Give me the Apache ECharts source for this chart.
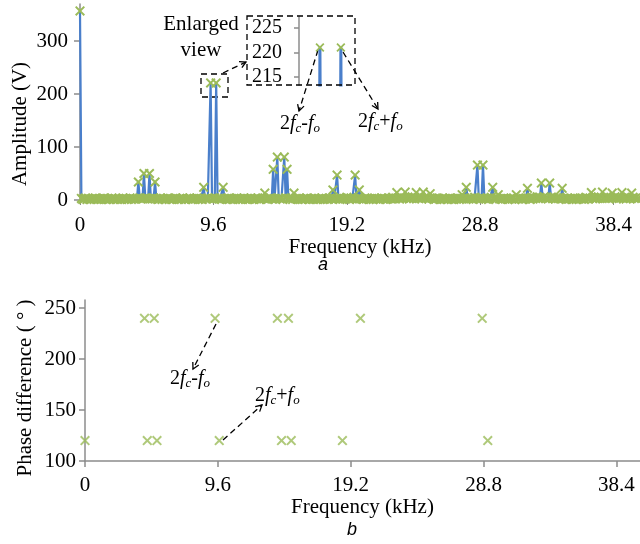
<!DOCTYPE html>
<html>
<head>
<meta charset="utf-8">
<script src="https://cdn.jsdelivr.net/npm/echarts@6/dist/echarts.min.js"></script>
<style>
  html, body { margin: 0; padding: 0; background: #fff; }
  #chart { width: 640px; height: 544px; }
</style>
</head>
<body>
<div id="chart"></div>
<script>
// 频谱数据：每 0.1 kHz 一个点，每行 1 kHz
var freqStep = 0.1
var amplitude = [
  357, 3, 1, 2, 4, 1, 3, 2, 1, 3,
  2, 4, 1, 2, 3, 1, 2, 4, 2, 1,
  3, 1, 2, 4, 1, 3, 2, 1, 3, 2,
  1, 4, 2, 3, 1, 2, 4, 1, 3, 2,
  2, 3, 34, 4, 3, 2, 50, 4, 3, 2,
  50, 3, 2, 4, 34, 3, 1, 2, 4, 1,
  3, 2, 1, 4, 2, 3, 1, 2, 3, 4,
  1, 2, 3, 1, 4, 2, 1, 3, 2, 4,
  2, 1, 3, 2, 4, 1, 3, 2, 1, 24,
  3, 2, 4, 3, 221, 3, 2, 4, 221, 3,
  2, 4, 1, 24, 3, 2, 1, 4, 2, 3,
  1, 3, 2, 4, 1, 2, 3, 1, 4, 2,
  3, 1, 2, 4, 2, 1, 3, 2, 4, 1,
  2, 3, 4, 13, 2, 1, 3, 4, 2, 58,
  3, 2, 81, 4, 2, 3, 1, 81, 4, 58,
  3, 2, 4, 1, 13, 3, 2, 1, 4, 2,
  1, 3, 2, 4, 2, 1, 3, 2, 1, 4,
  2, 1, 3, 2, 4, 1, 2, 3, 1, 2,
  4, 2, 19, 3, 2, 47, 3, 1, 4, 2,
  3, 2, 5, 3, 1, 4, 2, 3, 47, 2,
  4, 19, 3, 2, 1, 4, 2, 3, 1, 2,
  3, 1, 4, 2, 3, 2, 1, 4, 2, 3,
  1, 2, 4, 3, 2, 5, 3, 2, 14, 4,
  2, 6, 3, 4, 15, 3, 5, 2, 4, 6,
  3, 5, 14, 4, 3, 6, 2, 15, 4, 3,
  5, 2, 12, 4, 3, 1, 2, 4, 3, 1,
  2, 4, 1, 3, 2, 1, 4, 2, 3, 1,
  3, 2, 4, 1, 3, 10, 2, 4, 24, 3,
  2, 4, 3, 1, 5, 3, 66, 2, 4, 3,
  66, 3, 2, 4, 1, 3, 5, 24, 2, 3,
  4, 10, 2, 3, 1, 4, 2, 3, 1, 2,
  3, 2, 4, 1, 10, 3, 2, 4, 1, 3,
  2, 4, 22, 3, 1, 5, 2, 4, 3, 6,
  3, 5, 32, 4, 6, 3, 4, 2, 32, 5,
  3, 6, 2, 4, 3, 5, 2, 22, 4, 3,
  1, 4, 2, 3, 1, 2, 4, 1, 3, 2,
  4, 2, 3, 1, 5, 3, 2, 4, 14, 3,
  5, 2, 4, 6, 3, 5, 15, 4, 3, 6,
  4, 3, 5, 13, 4, 6, 2, 5, 3, 4,
  14, 3, 5, 2, 6, 4, 3, 13, 5, 3,
  4, 2, 3
]
var freqTicks = [0, 9.6, 19.2, 28.8, 38.4]
var ampTicks = [0, 100, 200, 300]
var insetTicks = [215, 220, 225]

// 相位差数据
var phaseFreq = [0, 4.3, 4.5, 5.0, 5.2, 9.4, 9.7, 13.9, 14.2, 14.7, 14.9, 18.6, 19.9, 28.7, 29.1]
var phaseDeg = [120, 240, 120, 240, 120, 240, 120, 240, 120, 240, 120, 120, 240, 240, 120]
var phaseTicks = [100, 150, 200, 250]

var BLUE = '#4A7FCB'
var GREEN = '#9BBB59'
var AXIS = '#8C8C8C'
var SERIF = 'Liberation Serif'
var CROSS = 'path://M0,1.4L1.4,0L5,3.6L8.6,0L10,1.4L6.4,5L10,8.6L8.6,10L5,6.4L1.4,10L0,8.6L3.6,5Z'

var ampData = amplitude.map(function (v, i) {
  return [+(i * freqStep).toFixed(1), v]
})
var phaseData = phaseFreq.map(function (f, i) {
  return [f, phaseDeg[i]]
})

function labelStyle (extra) {
  var s = { fontFamily: SERIF, fontSize: 21, color: '#000' }
  for (var k in extra) s[k] = extra[k]
  return s
}

// 虚线 + 箭头
function dashed (points) {
  return {
    type: 'polyline',
    shape: { points: points },
    style: { stroke: '#000', lineWidth: 1.3, lineDash: [6, 4], fill: null },
    silent: true
  }
}
function arrowHead (x1, y1, x2, y2) {
  var a = Math.atan2(y2 - y1, x2 - x1)
  var len = 7
  var p1 = [x2 - len * Math.cos(a - 0.5), y2 - len * Math.sin(a - 0.5)]
  var p2 = [x2 - len * Math.cos(a + 0.5), y2 - len * Math.sin(a + 0.5)]
  return {
    type: 'polyline',
    shape: { points: [p1, [x2, y2], p2] },
    style: { stroke: '#000', lineWidth: 1.3, fill: null },
    silent: true
  }
}
function arrow (x1, y1, x2, y2) {
  return [dashed([[x1, y1], [x2, y2]]), arrowHead(x1, y1, x2, y2)]
}
function harmonicText (x, y, sign) {
  return {
    type: 'text',
    x: x,
    y: y,
    silent: true,
    style: {
      text: '{n|2}{i|f}{s|c}{n|' + sign + '}{i|f}{s|o}',
      textVerticalAlign: 'middle',
      rich: {
        n: { fontFamily: SERIF, fontSize: 20, lineHeight: 22, color: '#000' },
        i: { fontFamily: SERIF, fontSize: 20, lineHeight: 22, fontStyle: 'italic', color: '#000' },
        s: { fontFamily: SERIF, fontSize: 13, fontStyle: 'italic', verticalAlign: 'bottom', color: '#000' }
      }
    }
  }
}
function plainText (x, y, text, style) {
  var s = { text: text, textAlign: 'center', textVerticalAlign: 'middle' }
  for (var k in style) s[k] = style[k]
  return { type: 'text', x: x, y: y, silent: true, style: s }
}

var graphics = [
  plainText(201, 24, 'Enlarged', labelStyle({})),
  plainText(201, 50, 'view', labelStyle({})),
  {
    type: 'rect', shape: { x: 201, y: 74, width: 27, height: 23 },
    style: { stroke: '#000', lineWidth: 1.3, lineDash: [6, 4], fill: null }, silent: true
  },
  {
    type: 'rect', shape: { x: 247, y: 16, width: 108, height: 69 },
    style: { stroke: '#000', lineWidth: 1.3, lineDash: [6, 4], fill: null }, silent: true, z: 10
  },
  harmonicText(280, 124, '-'),
  harmonicText(358, 122, '+'),
  harmonicText(170, 379, '-'),
  harmonicText(255, 396, '+'),
  plainText(323, 265, 'a', { fontFamily: 'Liberation Sans', fontStyle: 'italic', fontSize: 18, fill: '#000' }),
  plainText(352, 530, 'b', { fontFamily: 'Liberation Sans', fontStyle: 'italic', fontSize: 18, fill: '#000' }),
  {
    type: 'text', x: 20, y: 124, rotation: Math.PI / 2, silent: true,
    style: labelStyle({ text: 'Amplitude (V)', textAlign: 'center', textVerticalAlign: 'middle', fill: '#000' })
  },
  {
    type: 'text', x: 25, y: 388, rotation: Math.PI / 2, silent: true,
    style: labelStyle({ text: 'Phase difference ( ° )', textAlign: 'center', textVerticalAlign: 'middle', fill: '#000' })
  }
]
graphics = graphics
  .concat(arrow(223, 73, 246, 62))
  .concat(arrow(318, 50, 299, 111))
  .concat(arrow(343, 52, 378, 109))
  .concat(arrow(216, 324, 193, 369))
  .concat(arrow(223, 440, 262, 405))

var myChart = echarts.init(document.getElementById('chart'))
var option = {
  animation: false,
  backgroundColor: '#fff',
  grid: [
    { left: 80, top: 4, width: 560, height: 196 },
    { left: 299, top: 17, width: 56, height: 68 },
    { left: 85, top: 300, width: 555, height: 161 }
  ],
  xAxis: [{
    gridIndex: 0,
    type: 'value',
    min: 0,
    max: 40.3,
    name: 'Frequency (kHz)',
    nameLocation: 'middle',
    nameGap: 33,
    nameTextStyle: labelStyle({}),
    axisLine: { show: true, lineStyle: { color: AXIS, width: 1.5 } },
    axisTick: { show: true, length: 5, lineStyle: { color: AXIS }, customValues: freqTicks },
    axisLabel: labelStyle({ margin: 15, customValues: freqTicks }),
    splitLine: { show: false }
  }, {
    gridIndex: 1,
    type: 'value',
    min: 9.0,
    max: 10.07,
    show: false
  }, {
    gridIndex: 2,
    type: 'value',
    min: 0,
    max: 40.1,
    name: 'Frequency (kHz)',
    nameLocation: 'middle',
    nameGap: 32,
    nameTextStyle: labelStyle({}),
    axisLine: { show: true, lineStyle: { color: AXIS, width: 1.5 } },
    axisTick: { show: true, length: 6, lineStyle: { color: AXIS, width: 1.5 }, customValues: freqTicks },
    axisLabel: labelStyle({ margin: 14, customValues: freqTicks }),
    splitLine: { show: false }
  }],
  yAxis: [{
    gridIndex: 0,
    type: 'value',
    min: 0,
    max: 370,
    axisLine: { show: true, lineStyle: { color: AXIS, width: 1.5 } },
    axisTick: { show: true, length: 6, lineStyle: { color: AXIS, width: 1.5 }, customValues: ampTicks },
    axisLabel: labelStyle({ margin: 12, customValues: ampTicks }),
    splitLine: { show: false }
  }, {
    gridIndex: 1,
    type: 'value',
    min: 213.4,
    max: 227.2,
    axisLine: { show: true, lineStyle: { color: AXIS, width: 1.5 } },
    axisTick: { show: true, length: 5, lineStyle: { color: AXIS, width: 1.5 }, customValues: insetTicks },
    axisLabel: labelStyle({ fontSize: 20, margin: 17, customValues: insetTicks }),
    splitLine: { show: false }
  }, {
    gridIndex: 2,
    type: 'value',
    min: 100,
    max: 258,
    axisLine: { show: true, lineStyle: { color: AXIS, width: 1.5 } },
    axisTick: { show: true, length: 6, lineStyle: { color: AXIS, width: 1.5 }, customValues: phaseTicks },
    axisLabel: labelStyle({ margin: 9, customValues: phaseTicks }),
    splitLine: { show: false }
  }],
  series: [{
    name: 'Amplitude',
    type: 'line',
    xAxisIndex: 0,
    yAxisIndex: 0,
    data: ampData,
    symbol: CROSS,
    symbolSize: 10,
    showAllSymbol: true,
    lineStyle: { color: BLUE, width: 2.2 },
    itemStyle: { color: GREEN },
    z: 3
  }, {
    name: 'Enlarged',
    type: 'line',
    xAxisIndex: 1,
    yAxisIndex: 1,
    data: ampData,
    clip: true,
    symbol: CROSS,
    symbolSize: 9,
    showAllSymbol: true,
    lineStyle: { color: BLUE, width: 3 },
    itemStyle: { color: GREEN },
    z: 3
  }, {
    name: 'Phase',
    type: 'scatter',
    xAxisIndex: 2,
    yAxisIndex: 2,
    data: phaseData,
    symbol: CROSS,
    symbolSize: 10,
    itemStyle: { color: GREEN }
  }],
  graphic: graphics
}
myChart.setOption(option)
</script>
</body>
</html>
